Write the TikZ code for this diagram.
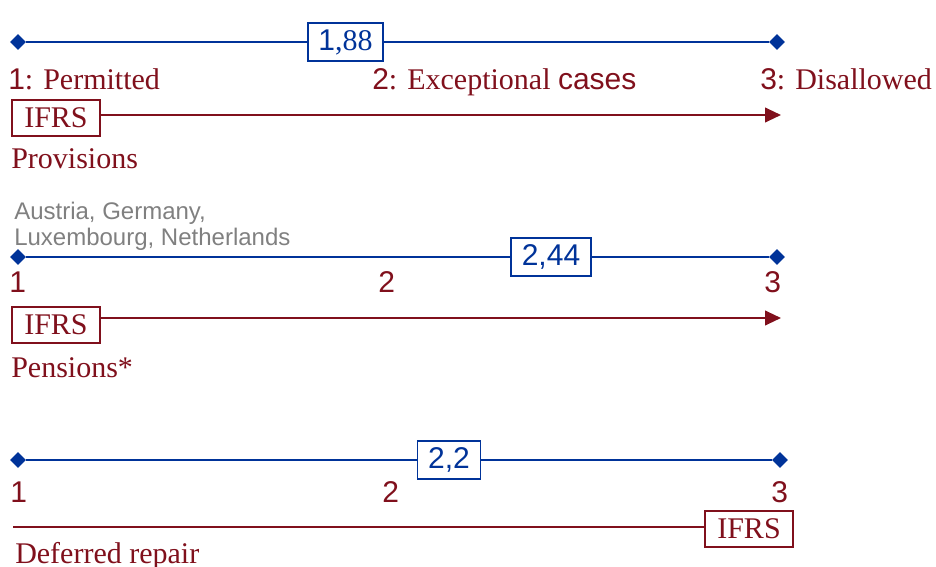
\documentclass[tikz,border=0pt]{standalone}
\usepackage{fontspec}
\setmainfont{Liberation Serif}
\setsansfont{Liberation Sans}
\usetikzlibrary{shapes.geometric, arrows.meta, positioning, calc}

\definecolor{valblue}{RGB}{0,51,153}
\definecolor{ifrsred}{RGB}{128,16,28}
\definecolor{notegray}{RGB}{128,128,128}
\newcommand{\bigtxt}{\fontsize{22.5}{27}\selectfont}
\newcommand{\midtxt}{\fontsize{18}{19.5}\selectfont}

\begin{document}
\begin{tikzpicture}[x=0.75pt,y=0.75pt,yscale=-1,xscale=1,
	valline/.style={draw=valblue, line width=1.5pt},
	endmark/.style={diamond, fill=valblue, inner sep=0pt, minimum size=12pt},
	valbox/.style={draw=valblue, line width=1.4pt, fill=white, text=valblue, font=\bigtxt\sffamily, inner xsep=8pt, inner ysep=0pt, minimum height=28pt},
	ifrsbox/.style={draw=ifrsred, line width=1.4pt, fill=white, text=ifrsred, font=\bigtxt, inner xsep=9pt, inner ysep=0pt, minimum height=27.5pt},
	ifrsline/.style={draw=ifrsred, line width=1.5pt},
	lbl/.style={anchor=base west, inner sep=0pt, text=ifrsred, font=\bigtxt}]
			\path[use as bounding box] (0,0) rectangle (936,567);
			
			%Scale: Provisions
			\node[endmark] (d1a) at (18,42) {};
			\node[endmark] (d1b) at (777,42) {};
			\node[valbox] (v1) at (345.5,42) {1{\rmfamily ,88}};
			\draw[valline] (d1a) -- (v1) -- (d1b);
			% Text Node
			\node[lbl] (p1) at (8,90) {{\sffamily 1}: Permitted};
			\node[lbl] (p2) at (372,90) {{\sffamily 2}: Exceptional {\sffamily cases}};
			\node[lbl] (p3) at (760,90) {{\sffamily 3}: Disallowed};
			%IFRS arrow
			\node[ifrsbox] (f1) at (56,118) {IFRS};
			\coordinate (e1) at (781,115);
			\draw[ifrsline, -{Triangle[length=12pt,width=11pt]}] (f1.east |- e1) -- (e1);
			\node[lbl] (t1) at (11,168) {Provisions};
			
			%Scale: Pensions
			\node[anchor=base west, inner sep=0pt, text=notegray, font=\midtxt\sffamily, align=left] (c2) at (14,245) {Austria, Germany,\\Luxembourg, Netherlands};
			\node[endmark] (d2a) at (18,257) {};
			\node[endmark] (d2b) at (777,257) {};
			\node[valbox] (v2) at (551,257) {2,44};
			\draw[valline] (d2a) -- (v2) -- (d2b);
			% Text Node
			\node[lbl, font=\bigtxt\sffamily] (n2a) at (9,292) {1};
			\node[lbl, font=\bigtxt\sffamily] (n2b) at (378,292) {2};
			\node[lbl, font=\bigtxt\sffamily] (n2c) at (764,292) {3};
			%IFRS arrow
			\node[ifrsbox] (f2) at (56,325) {IFRS};
			\coordinate (e2) at (781,318);
			\draw[ifrsline, -{Triangle[length=12pt,width=11pt]}] (f2.east |- e2) -- (e2);
			\node[lbl] (t2) at (11,377) {Pensions*};
			
			%Scale: Deferred repair
			\node[endmark] (d3a) at (18,460) {};
			\node[endmark] (d3b) at (780,460) {};
			\node[valbox] (v3) at (449,460) {2,2};
			\draw[valline] (d3a) -- (v3) -- (d3b);
			% Text Node
			\node[lbl, font=\bigtxt\sffamily] (n3a) at (10,502) {1};
			\node[lbl, font=\bigtxt\sffamily] (n3b) at (382,502) {2};
			\node[lbl, font=\bigtxt\sffamily] (n3c) at (771,502) {3};
			%IFRS line
			\node[ifrsbox] (f3) at (749,529) {IFRS};
			\coordinate (s3) at (13,527);
			\draw[ifrsline] (s3) -- (s3 -| f3.west);
			\node[lbl] (t3) at (15,563) {Deferred repair};
			
		\end{tikzpicture}
\end{document}
